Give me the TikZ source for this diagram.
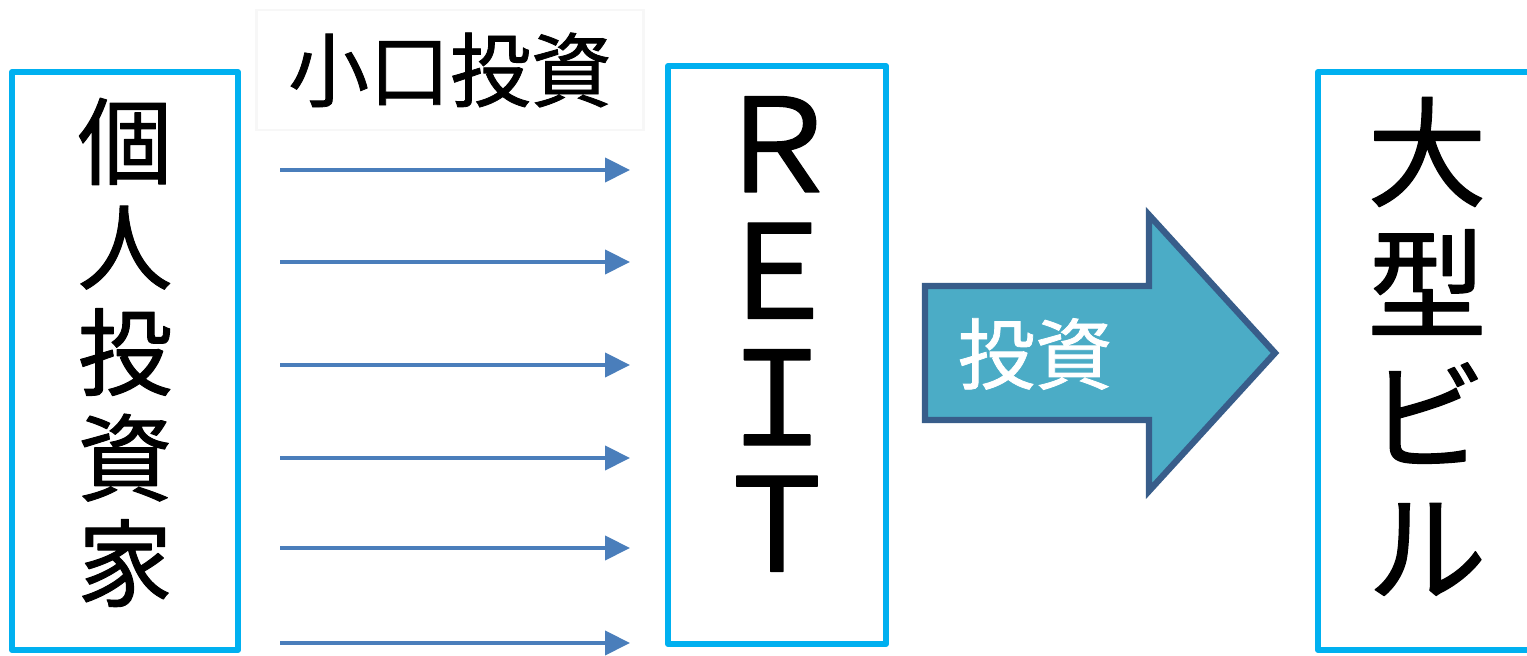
\documentclass[tikz,border=0pt]{standalone}
\usepackage{fontspec}
\setmainfont{Noto Sans CJK JP}[UprightFeatures={FakeBold=1}]
\usetikzlibrary{arrows.meta, positioning}
\definecolor{boxcyan}{RGB}{0,176,240}
\definecolor{flowblue}{RGB}{74,126,187}
\definecolor{bigfill}{RGB}{75,172,198}
\definecolor{bigline}{RGB}{56,93,138}
\tikzstyle{block} = [rectangle, draw=boxcyan, line width=1.7pt, line join=round, outer sep=0pt, align=center, minimum width=2.18cm, minimum height=5.78cm]
\tikzstyle{flow} = [draw=flowblue, line width=1.2pt, -{Triangle[length=2.5mm, width=2.4mm]}, shorten <=4.2mm, shorten >=3.8mm]
\tikzstyle{bigarrow} = [fill=bigfill, draw=bigline, line width=1.8pt, line join=miter]

\begin{document}
\begin{tikzpicture}[node distance=4.3cm]
  \useasboundingbox (0,0) rectangle (15.27,6.56);

  % Bloques
  \node (investor) [block, minimum width=2.26cm, font=\fontsize{27}{30}\selectfont] at (1.25,2.95) {個\\人\\投\\資\\家\rule[-0.25cm]{0pt}{0pt}};
  \node (reit) [block, right=of investor, yshift=0.6mm, font=\fontsize{37}{36}\selectfont] {Ｒ\\Ｅ\\Ｉ\\Ｔ\rule[-0.42cm]{0pt}{0pt}};
  \node (building) [block, right=4.32cm of reit, yshift=-0.6mm, font=\fontsize{34}{37.5}\selectfont] {大\\型\\ビ\\ル\rule[-0.32cm]{0pt}{0pt}};

  % Etiqueta superior
  \node (small) [draw=black!3, line width=0.6pt, minimum width=3.87cm, minimum height=1.2cm, font=\fontsize{23}{26}\selectfont] at (4.5,5.86) {小口投資};

  % Flechas pequeñas
  \draw [flow] (investor.east |- 0,4.86) -- (reit.west |- 0,4.86);
  \draw [flow] (investor.east |- 0,3.94) -- (reit.west |- 0,3.94);
  \draw [flow] (investor.east |- 0,2.91) -- (reit.west |- 0,2.91);
  \draw [flow] (investor.east |- 0,1.98) -- (reit.west |- 0,1.98);
  \draw [flow] (investor.east |- 0,1.08) -- (reit.west |- 0,1.08);
  \draw [flow] (investor.east |- 0,0.13) -- (reit.west |- 0,0.13);

  % Flecha grande
  \draw [bigarrow] (9.25,3.70) -- (11.49,3.70) -- (11.49,4.41) -- (12.75,3.03)
    -- (11.49,1.65) -- (11.49,2.36) -- (9.25,2.36) -- cycle;
  \node (invest) [text=white, font=\fontsize{22}{24}\selectfont] at (10.35,3.02) {投資};

\end{tikzpicture}
\end{document}
